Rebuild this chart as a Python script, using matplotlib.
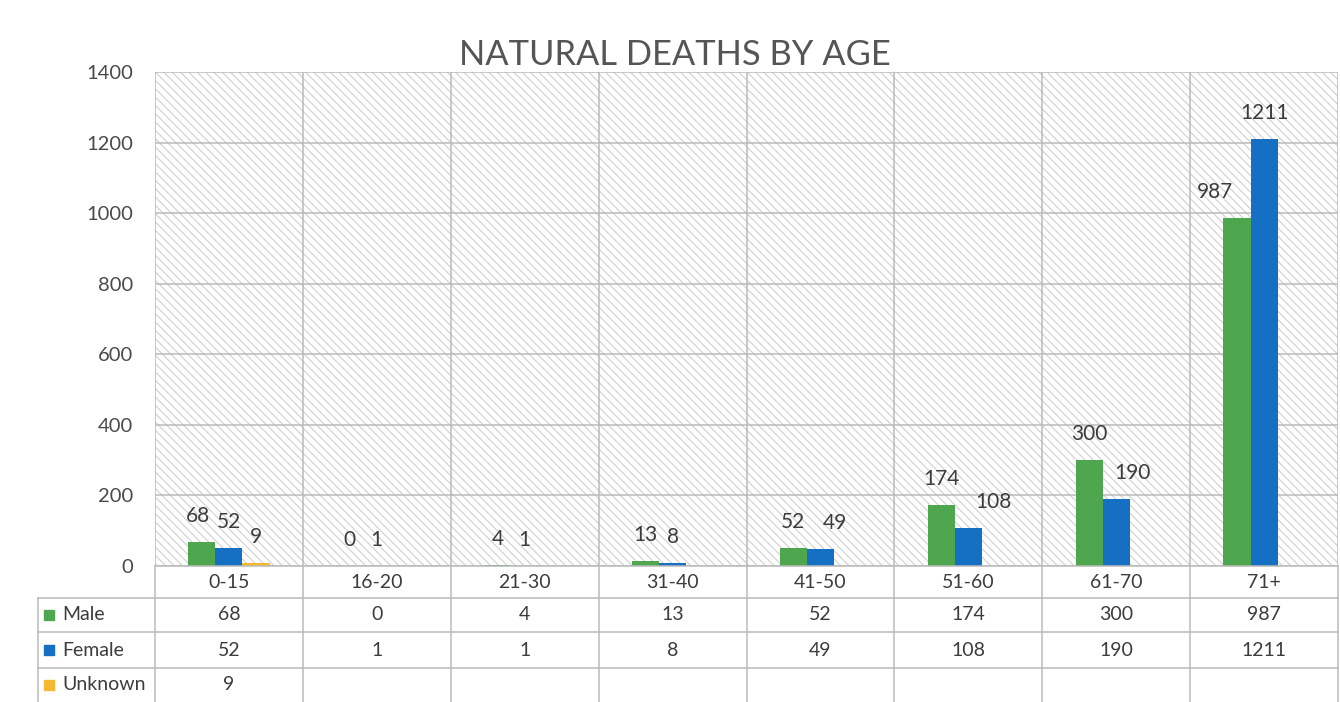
import matplotlib
matplotlib.use('Agg')
import matplotlib.pyplot as plt
import numpy as np
from matplotlib.patches import Rectangle

categories = ['0-15', '16-20', '21-30', '31-40', '41-50', '51-60', '61-70', '71+']
male = [68, 0, 4, 13, 52, 174, 300, 987]
female = [52, 1, 1, 8, 49, 108, 190, 1211]
unknown = [9, None, None, None, None, None, None, None]
series_names = ['Male', 'Female', 'Unknown']
series_values = [male, female, unknown]
colors = ['#4EA64E', '#1570C4', '#F5B82E']
y_ticks = [0, 200, 400, 600, 800, 1000, 1200, 1400]
title = 'NATURAL DEATHS BY AGE'

# horizontal nudges (pixels) of data labels, as placed in the original chart
male_label_dx = [-4, 0, 0, 0, 0, 0, 0, -22]
female_label_dx = [0, 0, 0, 0, 14, 25, 16, 0]
unknown_label_dx = [0, 0, 0, 0, 0, 0, 0, 0]
label_dx = [male_label_dx, female_label_dx, unknown_label_dx]

plt.rcParams['font.family'] = ['Lato', 'DejaVu Sans']
plt.rcParams['hatch.linewidth'] = 0.8

W, H = 1340, 702
fig = plt.figure(figsize=(W / 100, H / 100), dpi=100)
fig.patch.set_facecolor('white')

left, right, top, base, tbottom = 155, 1338, 72, 566, 702
catw = (right - left) / len(categories)
px2pt = 72 / 100

ax = fig.add_axes([left / W, 1 - base / H, (right - left) / W, (base - top) / H])
ax.set_xlim(0, len(categories))
ax.set_ylim(0, 1400)
for s in ax.spines.values():
    s.set_visible(False)
ax.set_xticks([])
ax.set_yticks(y_ticks)
ax.tick_params(axis='y', length=0, pad=16, labelsize=14.5, labelcolor='#4a4a4a')

# hatched background
ax.add_patch(Rectangle((0, 0), 1, 1, transform=ax.transAxes, facecolor='white',
                       edgecolor='#d0d0d0', hatch='\\\\\\\\', linewidth=0, zorder=0))
grid_c = '#bababa'
for t in y_ticks:
    ax.axhline(t, color=grid_c, lw=1.1, zorder=1)
for i in range(len(categories) + 1):
    ax.axvline(i, color=grid_c, lw=1.1, zorder=1)

bw = 0.183
x = np.arange(len(categories)) + 0.5
for k, (name, vals, c) in enumerate(zip(series_names, series_values, colors)):
    v = np.array([np.nan if a is None else a for a in vals], dtype=float)
    xs = x + (k - 1) * bw
    ax.bar(xs, v, width=bw, color=c, zorder=3)
    for xi, vi, dx in zip(xs, vals, label_dx[k]):
        if vi is None:
            continue
        ax.annotate(str(vi), (xi, vi), xytext=(dx * px2pt, 26 * px2pt), textcoords='offset points',
                    ha='center', va='center', fontsize=15, color='#3c3c3c', zorder=4)

fig.text(0.5035, 1 - 55 / H, title, ha='center', va='center', fontsize=24.8, color='#555555')

# data table
tax = fig.add_axes([left / W, 0, (right - left) / W, (tbottom - base) / H])
tax.set_xlim(0, len(categories))
tax.set_ylim(tbottom, base)
tax.axis('off')
rows_y = [566, 598, 632, 668, 702]
hdr_left = (38 - left) / catw
for i in range(len(categories) + 1):
    tax.plot([i, i], [base, tbottom], color=grid_c, lw=1.1, clip_on=False)
tax.plot([0, len(categories)], [base, base], color=grid_c, lw=1.1, clip_on=False)
for yy in rows_y[1:4]:
    tax.plot([hdr_left, len(categories)], [yy, yy], color=grid_c, lw=1.1, clip_on=False)
tax.plot([hdr_left, hdr_left], [rows_y[1], tbottom], color=grid_c, lw=1.1, clip_on=False)

tcolor = '#3c3c3c'
yc0 = (rows_y[0] + rows_y[1]) / 2
for i, cat in enumerate(categories):
    tax.text(i + 0.5, yc0, cat, ha='center', va='center', fontsize=14, color=tcolor, clip_on=False)
for r, (name, vals, c) in enumerate(zip(series_names, series_values, colors)):
    yc = (rows_y[r + 1] + rows_y[r + 2]) / 2
    tax.plot([(49 - left) / catw], [yc], marker='s', ms=6.5, color=c, clip_on=False, ls='none')
    tax.text((62 - left) / catw, yc, name, ha='left', va='center', fontsize=14, color=tcolor, clip_on=False)
    for i, v in enumerate(vals):
        if v is None:
            continue
        tax.text(i + 0.5, yc, str(v), ha='center', va='center', fontsize=14, color=tcolor, clip_on=False)

fig.savefig('out.png', dpi=100, facecolor='white')
